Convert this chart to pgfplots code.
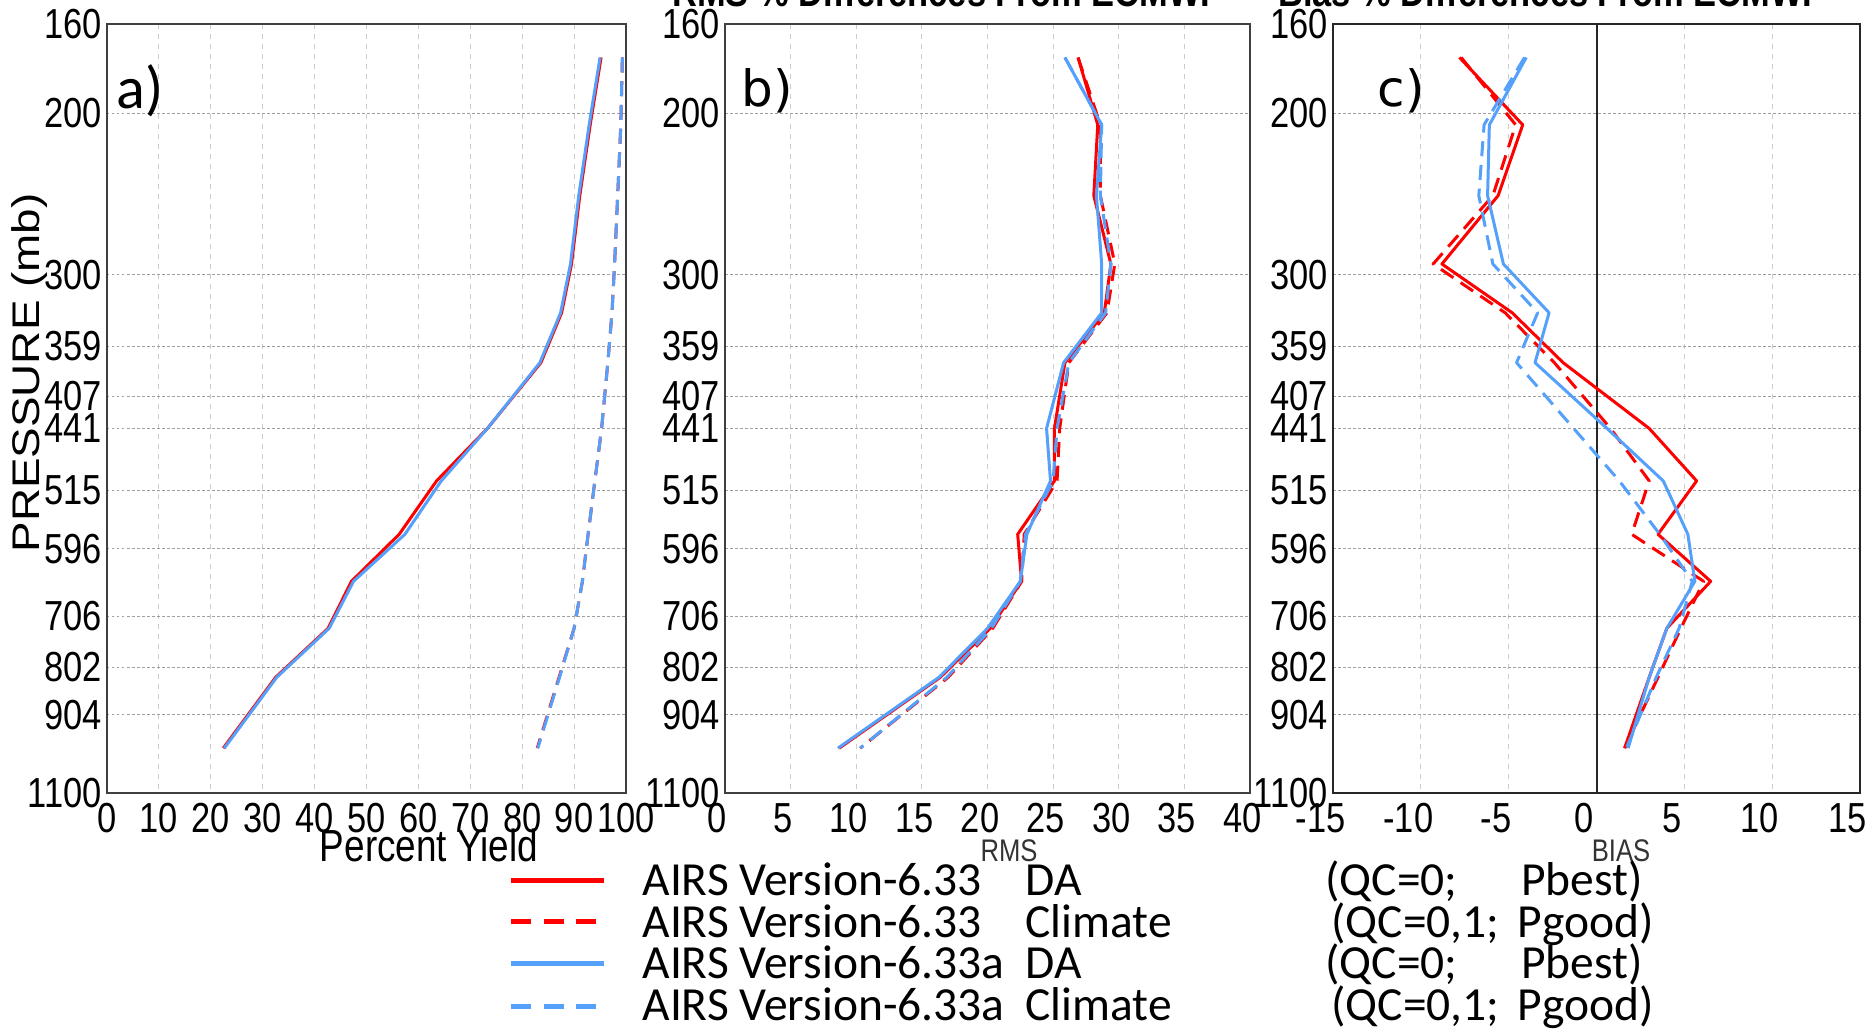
\documentclass[border=0pt]{standalone}
\usepackage{fontspec}
\usepackage{pgfplots}
\usepackage{pgfplotstable}
\pgfplotsset{compat=1.18}
\setmainfont{Liberation Sans}
\newfontfamily\tickfont{Liberation Sans}[FakeStretch=0.82]
\newfontfamily\presfont{Liberation Sans}[FakeStretch=1.19]
\newfontfamily\calfont{Carlito}
\newfontfamily\djfont{DejaVu Sans}
\definecolor{myred}{RGB}{255,0,0}
\definecolor{myblue}{RGB}{85,160,250}

% columns: p = pressure (mb); ra = V6.33 DA; rc = V6.33 Climate; ba = V6.33a DA; bc = V6.33a Climate
\pgfplotstableread{
p   ra    rc    ba    bc
174 95.2  99.3  95.0  99.3
206 93.1  99.0  92.9  99.0
246 91.1  98.4  90.9  98.4
292 89.5  97.8  89.3  97.8
330 87.6  97.3  87.4  97.3
374 83.6  96.5  83.4  96.5
441 73.3  95.3  73.3  95.3
503 63.5  94.0  64.4  94.0
575 56.3  92.7  57.4  92.7
647 47.1  91.6  47.5  91.6
728 42.6  90.0  42.8  90.0
823 32.5  87.1  32.7  87.2
983 22.4  82.9  22.6  83.0
}\tabA

\pgfplotstableread{
p   ra    rc    ba    bc
174 26.9  26.9  25.9  25.9
206 28.4  28.6  28.7  28.7
246 28.1  28.6  28.3  28.6
292 29.4  29.7  28.7  29.4
330 28.9  29.1  28.7  29.0
374 25.9  26.2  25.8  26.2
441 25.1  25.5  24.5  25.3
503 25.1  25.3  24.8  25.0
575 22.3  22.8  23.0  22.9
647 22.6  22.6  22.5  22.5
728 20.2  20.4  20.0  20.3
823 16.4  17.0  16.3  16.9
983 8.7   10.3  8.6   10.3
}\tabB

\pgfplotstableread{
p   ra    rc    ba    bc
174 -7.8  -7.7  -4.0  -4.1
206 -4.2  -4.6  -6.1  -6.4
246 -5.6  -5.9  -6.2  -6.7
292 -8.8  -9.3  -5.3  -5.9
330 -4.8  -5.2  -2.7  -3.35
374 -1.9  -2.4  -3.5  -4.55
441 3.0   0.8   0.6   -1.3
503 5.7   3.0   3.8   1.3
575 3.5   2.0   5.2   3.6
647 6.5   6.1   5.6   5.45
728 4.0   4.8   4.0   4.7
823 3.0   3.5   3.0   3.4
983 1.6   1.6   1.8   1.7
}\tabC

\pgfplotsset{
  panel/.style={
    scale only axis, height=307.6pt, anchor=south west,
    y dir=reverse, ymin=160, ymax=1100,
    ytick={160,200,300,359,407,441,515,596,706,802,904,1100},
    yticklabels={160,200,300,359,407,441,515,596,706,802,904,1100},
    minor ytick={}, minor xtick={},
    grid=major,
    major tick length=0pt, minor tick length=0pt,
    x grid style={gray!40, line width=0.4pt, dash pattern=on 2pt off 2pt},
    y grid style={gray!75, line width=0.4pt, dash pattern=on 1pt off 1pt},
    axis line style={black!75, line width=0.9pt},
    tick label style={font=\tickfont\fontsize{16.8}{18}\selectfont},
    yticklabel style={inner sep=1pt, xshift=-1pt},
    xticklabel style={inner sep=1pt, yshift=-3pt},
  },
  rs/.style={myred, line width=1.2pt, line join=round},
  rd/.style={myred, line width=1.2pt, line join=round, dash pattern=on 6pt off 3.5pt},
  bs/.style={myblue, line width=1.2pt, line join=round},
  bd/.style={myblue, line width=1.2pt, line join=round, dash pattern=on 6pt off 3.5pt},
}

\begin{document}
\begin{tikzpicture}
% ---------------- panel a
\begin{semilogyaxis}[panel, at={(42.8pt,95.2pt)}, width=207.6pt,
  xmin=0, xmax=100, xtick={0,10,...,100},
  xticklabels={0,10,20,30,40,50,60,70,80,90,100}]
\addplot[rs] table[x=ra,y=p]{\tabA};
\addplot[rd] table[x=rc,y=p]{\tabA};
\addplot[bs] table[x=ba,y=p]{\tabA};
\addplot[bd] table[x=bc,y=p]{\tabA};
\end{semilogyaxis}
% ---------------- panel b
\begin{semilogyaxis}[panel, at={(290pt,95.2pt)}, width=210pt,
  xmin=0, xmax=40, xtick={0,5,...,40},
  xticklabels={0,5,10,15,20,25,30,35,40},
  xticklabel style={xshift=-3pt}]
\addplot[rs] table[x=ra,y=p]{\tabB};
\addplot[rd] table[x=rc,y=p]{\tabB};
\addplot[bs] table[x=ba,y=p]{\tabB};
\addplot[bd] table[x=bc,y=p]{\tabB};
\end{semilogyaxis}
% ---------------- panel c
\begin{semilogyaxis}[panel, at={(533.2pt,95.2pt)}, width=210.8pt,
  xmin=-15, xmax=15, xtick={-15,-10,...,15},
  xticklabels={-15,-10,-5,0,5,10,15},
  xticklabel style={xshift=-5pt},
  axis line style={black!85, line width=0.9pt}]
\addplot[black!85, line width=0.8pt] coordinates {(0,160) (0,1100)};
\addplot[rs] table[x=ra,y=p]{\tabC};
\addplot[rd] table[x=rc,y=p]{\tabC};
\addplot[bs] table[x=ba,y=p]{\tabC};
\addplot[bd] table[x=bc,y=p]{\tabC};
\end{semilogyaxis}

% panel letters
\node[anchor=base west, inner sep=0pt, font=\calfont\fontsize{24}{26}\selectfont] at (46.4pt,368.8pt) {a)};
\node[anchor=base west, inner sep=0pt, font=\djfont\fontsize{20}{22}\selectfont] at (296.4pt,369.6pt) {b)};
\node[anchor=base west, inner sep=0pt, font=\djfont\fontsize{20}{22}\selectfont] at (550.8pt,369.6pt) {c)};

% axis labels
\node[rotate=90, inner sep=0pt, font=\presfont\fontsize{15.4}{17}\selectfont] at (11.8pt,263.2pt) {PRESSURE (mb)};
\node[anchor=base, inner sep=0pt, font=\tickfont\fontsize{18}{20}\selectfont] at (171.6pt,67.6pt) {Percent Yield};
\node[anchor=base, inner sep=0pt, text=black!80, font=\tickfont\fontsize{12.5}{14}\selectfont] at (403.6pt,67.6pt) {RMS};
\node[anchor=base, inner sep=0pt, text=black!80, font=\tickfont\fontsize{12.5}{14}\selectfont] at (648.4pt,67.6pt) {BIAS};

% titles (cut at the top edge, as in the original)
\node[anchor=base, inner sep=0pt, font=\tickfont\bfseries\fontsize{16.8}{18}\selectfont] at (378.8pt,409.6pt) {RMS \% Differences From ECMWF};
\node[anchor=base, inner sep=0pt, font=\tickfont\bfseries\fontsize{16.8}{18}\selectfont] at (620.4pt,409.6pt) {Bias \% Differences From ECMWF};

% legend
\draw[myred, line width=2pt] (204.4pt,60.0pt) -- (241.6pt,60.0pt);
\draw[myred, line width=2pt, dash pattern=on 8pt off 5pt] (204.4pt,43.6pt) -- (241.6pt,43.6pt);
\draw[myblue, line width=2pt] (204.4pt,27.2pt) -- (241.6pt,27.2pt);
\draw[myblue, line width=2pt, dash pattern=on 8pt off 5pt] (204.4pt,10.0pt) -- (241.6pt,10.0pt);
\begin{scope}[every node/.style={inner sep=0pt, font=\calfont\fontsize{19}{20}\selectfont}]
\node[anchor=base west] at (256.8pt,54.0pt) {AIRS Version-6.33};
\node[anchor=base west] at (256.8pt,37.6pt) {AIRS Version-6.33};
\node[anchor=base west] at (256.8pt,21.2pt) {AIRS Version-6.33a};
\node[anchor=base west] at (256.8pt,4.4pt) {AIRS Version-6.33a};
\node[anchor=base west] at (410pt,54.0pt) {DA};
\node[anchor=base west] at (410pt,37.6pt) {Climate};
\node[anchor=base west] at (410pt,21.2pt) {DA};
\node[anchor=base west] at (410pt,4.4pt) {Climate};
\node[anchor=base west] at (530pt,54.0pt) {(QC=0;};
\node[anchor=base west] at (532.4pt,37.6pt) {(QC=0,1;};
\node[anchor=base west] at (530pt,21.2pt) {(QC=0;};
\node[anchor=base west] at (532.4pt,4.4pt) {(QC=0,1;};
\node[anchor=base east] at (657.2pt,54.0pt) {Pbest)};
\node[anchor=base east] at (661.6pt,37.6pt) {Pgood)};
\node[anchor=base east] at (657.2pt,21.2pt) {Pbest)};
\node[anchor=base east] at (661.6pt,4.4pt) {Pgood)};
\end{scope}

\pgfresetboundingbox
\path[use as bounding box] (0pt,0pt) rectangle (749.6pt,412.4pt);
\end{tikzpicture}
\end{document}
